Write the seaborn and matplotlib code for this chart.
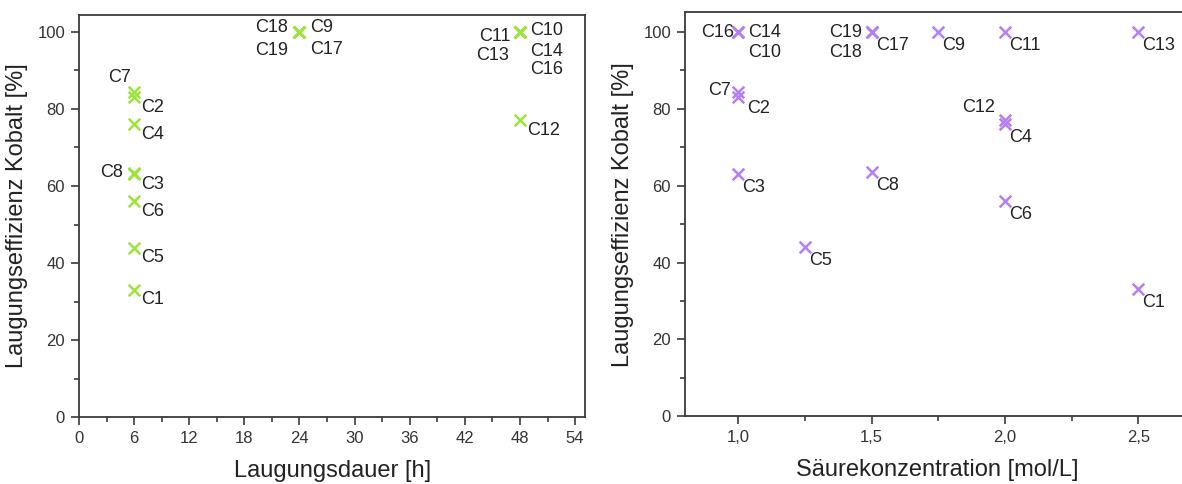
import matplotlib
matplotlib.use("Agg")
import matplotlib.pyplot as plt
from matplotlib.ticker import MultipleLocator, FuncFormatter
import seaborn as sns
import pandas as pd

# Versuchsreihen C1..C19 (ohne C15)
samples = ["C1", "C2", "C3", "C4", "C5", "C6", "C7", "C8", "C9", "C10",
           "C11", "C12", "C13", "C14", "C16", "C17", "C18", "C19"]
duration_h = [6, 6, 6, 6, 6, 6, 6, 6, 24, 48,
              48, 48, 48, 48, 48, 24, 24, 24]
acid_mol_l = [2.5, 1.0, 1.0, 2.0, 1.25, 2.0, 1.0, 1.5, 1.75, 1.0,
              2.0, 2.0, 2.5, 1.0, 1.0, 1.5, 1.5, 1.5]
efficiency_pct = [33, 83, 63, 76, 44, 56, 84.5, 63.5, 100, 100,
                  100, 77, 100, 100, 100, 100, 100, 100]

df = pd.DataFrame({"probe": samples, "dauer": duration_h,
                   "saeure": acid_mol_l, "eff": efficiency_pct})

# label offsets in points (dx, dy, ha)
BR = (5, -7, "left")
left_offsets = {
    "C1": BR, "C2": BR, "C3": BR, "C4": BR, "C5": BR, "C6": BR, "C12": BR,
    "C7": (-2, 10, "right"), "C8": (-8, 0, "right"),
    "C18": (-8, 3, "right"), "C19": (-8, -13.5, "right"),
    "C9": (8, 3, "left"), "C17": (8, -13, "left"),
    "C11": (-7, -3, "right"), "C13": (-8, -17, "right"),
    "C10": (7, 1, "left"), "C14": (7, -14, "left"), "C16": (7, -27, "left"),
}
BR2 = (3, -9.5, "left")
right_offsets = {
    "C1": BR2, "C3": BR2, "C4": BR2, "C5": BR2, "C6": BR2, "C8": BR2,
    "C9": BR2, "C11": BR2, "C13": BR2, "C17": BR2,
    "C2": (6, -8, "left"),
    "C7": (-5, 0.5, "right"), "C12": (-7, 9, "right"),
    "C16": (-3, 0, "right"), "C14": (7, 0, "left"), "C10": (7, -15, "left"),
    "C19": (-7, 0, "right"), "C18": (-7, -15, "right"),
}

sns.set_theme(style="ticks")
plt.rcParams["font.family"] = ["Liberation Sans", "DejaVu Sans"]

GREEN = "#9be43a"
PURPLE = "#b57ff2"
SPINE = "#3a3a3a"

fig = plt.figure(figsize=(11.82, 4.84), dpi=100)
ax1 = fig.add_axes([0.0668, 0.138, 0.4283, 0.832])
ax2 = fig.add_axes([0.5795, 0.140, 0.4265, 0.835])


def style_axes(ax):
    for sp in ax.spines.values():
        sp.set_color(SPINE)
        sp.set_linewidth(1.3)
    ax.tick_params(which="major", direction="out", length=6, width=1.2,
                   color=SPINE, labelsize=12, labelcolor="#333333", pad=4)
    ax.tick_params(which="minor", direction="out", length=3.5, width=1.2,
                   color=SPINE)
    ax.yaxis.set_major_locator(MultipleLocator(20))
    ax.yaxis.set_minor_locator(MultipleLocator(10))
    ax.set_ylim(0, 104.5)
    ax.set_ylabel("Laugungseffizienz Kobalt [%]", fontsize=17,
                  color="#222222", labelpad=7)


def annotate(ax, xcol, offsets):
    for _, r in df.iterrows():
        dx, dy, ha = offsets[r["probe"]]
        ax.annotate(r["probe"], (r[xcol], r["eff"]), xytext=(dx, dy),
                    textcoords="offset points", ha=ha, va="center",
                    fontsize=13, color="#222222")


# Laugungsdauer
sns.scatterplot(data=df, x="dauer", y="eff", ax=ax1, marker="x", s=70,
                color=GREEN, linewidth=1.8, zorder=3)
style_axes(ax1)
ax1.set_xlim(0, 55.1)
ax1.xaxis.set_major_locator(MultipleLocator(6))
ax1.xaxis.set_minor_locator(MultipleLocator(3))
ax1.set_xlabel("Laugungsdauer [h]", fontsize=17, color="#222222", labelpad=10)
annotate(ax1, "dauer", left_offsets)

# Säurekonzentration
sns.scatterplot(data=df, x="saeure", y="eff", ax=ax2, marker="x", s=70,
                color=PURPLE, linewidth=1.8, zorder=3)
style_axes(ax2)
ax2.set_ylim(0, 105.2)
ax2.set_xlim(0.8, 2.69)
ax2.xaxis.set_major_locator(MultipleLocator(0.5))
ax2.xaxis.set_minor_locator(MultipleLocator(0.25))
ax2.xaxis.set_major_formatter(FuncFormatter(lambda v, p: f"{v:.1f}".replace(".", ",")))
ax2.set_xlabel("Säurekonzentration [mol/L]", fontsize=17, color="#222222", labelpad=10)
annotate(ax2, "saeure", right_offsets)

fig.savefig("out.png", dpi=100)
